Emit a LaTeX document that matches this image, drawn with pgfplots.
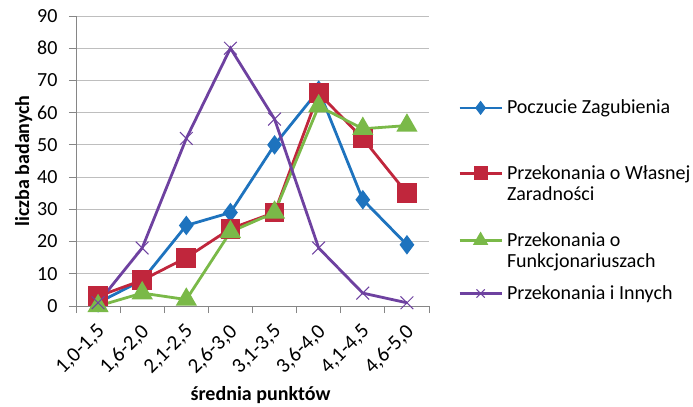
\documentclass[border=0pt]{standalone}
\usepackage{fontspec}
\setmainfont{Carlito}
\usepackage{pgfplots}
\pgfplotsset{compat=1.18}

\definecolor{sblue}{RGB}{30,115,190}
\definecolor{sred}{RGB}{192,38,60}
\definecolor{sgreen}{RGB}{122,185,72}
\definecolor{spurple}{RGB}{110,65,160}
\definecolor{axgray}{RGB}{134,134,134}
\definecolor{gridgray}{RGB}{190,190,190}

\newcommand{\chfont}{\fontsize{20bp}{21bp}\selectfont}
% legend entry: first line on the baseline, extra depth for uneven spacing
\newcommand{\entry}[2]{\begin{tabular}[t]{@{}l@{}}#1\rule[-#2]{0pt}{0pt}\end{tabular}}

\begin{document}
\begin{tikzpicture}
\useasboundingbox (-76bp,-101bp) rectangle (617bp,306bp);
\begin{axis}[
  scale only axis, width=353bp, height=290bp,
  xmin=0.5, xmax=8.5, ymin=0, ymax=90,
  axis lines*=left,
  axis line style={draw=axgray, line width=0.8bp},
  ytick={0,10,...,90},
  ymajorgrids, grid style={draw=gridgray, line width=0.8bp},
  tick style={draw=axgray, line width=0.8bp},
  major tick length=7bp, tick align=outside,
  xtick={0.5,1.5,...,8.5}, xticklabels={},
  extra x ticks={1,...,8},
  extra x tick labels={{1,0-1,5},{1,6-2,0},{2,1-2,5},{2,6-3,0},{3,1-3,5},{3,6-4,0},{4,1-4,5},{4,6-5,0}},
  extra x tick style={major tick length=0pt, tick style={draw=none},
    xticklabel style={xshift=6bp, yshift=-20bp, rotate=45, anchor=east,
      font=\fontsize{21bp}{24bp}\selectfont}},
  yticklabel style={font=\chfont, xshift=-8bp, /pgf/number format/assume math mode=true},
  ylabel={\textbf{liczba badanych}},
  ylabel style={font=\chfont, at={(axis description cs:-0.148,0.5)}, anchor=center},
  xlabel={\textbf{średnia punktów}},
  xlabel style={font=\chfont, at={(axis description cs:0.5,0)}, anchor=base, yshift=-94bp, xshift=8bp},
  legend cell align=left,
  legend style={at={(1,1)}, anchor=north west, xshift=29bp, yshift=-82bp,
    draw=none, fill=none, inner sep=0pt, row sep=9bp,
    cells={anchor=base west},
    nodes={font=\chfont, inner sep=1bp, text depth={}},
    /tikz/every odd column/.append style={column sep=3bp}},
  legend image code/.code={\draw[mark repeat=2, mark phase=2, /tikz/every mark/.append style={scale=0.65}]
    plot coordinates {(0bp,6bp) (21bp,6bp) (42bp,6bp)};},
  clip=false,
]
\addplot[sblue, line width=2.8bp, mark=diamond*, mark size=7.5bp, mark options={solid}]
  coordinates {(1,1) (2,8) (3,25) (4,29) (5,50) (6,67) (7,33) (8,19)};
\addlegendentry{\entry{Poczucie Zagubienia}{39.6bp}}
\addplot[sred, line width=2.8bp, mark=square*, mark size=8.5bp, mark options={solid}]
  coordinates {(1,3) (2,8) (3,15) (4,24) (5,29) (6,66) (7,52) (8,35)};
\addlegendentry{\entry{Przekonania o Własnej\\Zaradności}{20.6bp}}
\addplot[sgreen, line width=2.8bp, mark=triangle*, mark size=9.5bp, mark options={solid}]
  coordinates {(1,0) (2,4) (3,2) (4,23) (5,29) (6,62) (7,55) (8,56)};
\addlegendentry{\entry{Przekonania o\\Funkcjonariuszach}{0bp}}
\addplot[spurple, line width=2.8bp, mark=x, mark size=9bp, mark options={solid, line width=1bp}]
  coordinates {(1,1) (2,18) (3,52) (4,80) (5,58) (6,18) (7,4) (8,1)};
\addlegendentry{\entry{Przekonania i Innych}{0bp}}
\end{axis}
\end{tikzpicture}
\end{document}
